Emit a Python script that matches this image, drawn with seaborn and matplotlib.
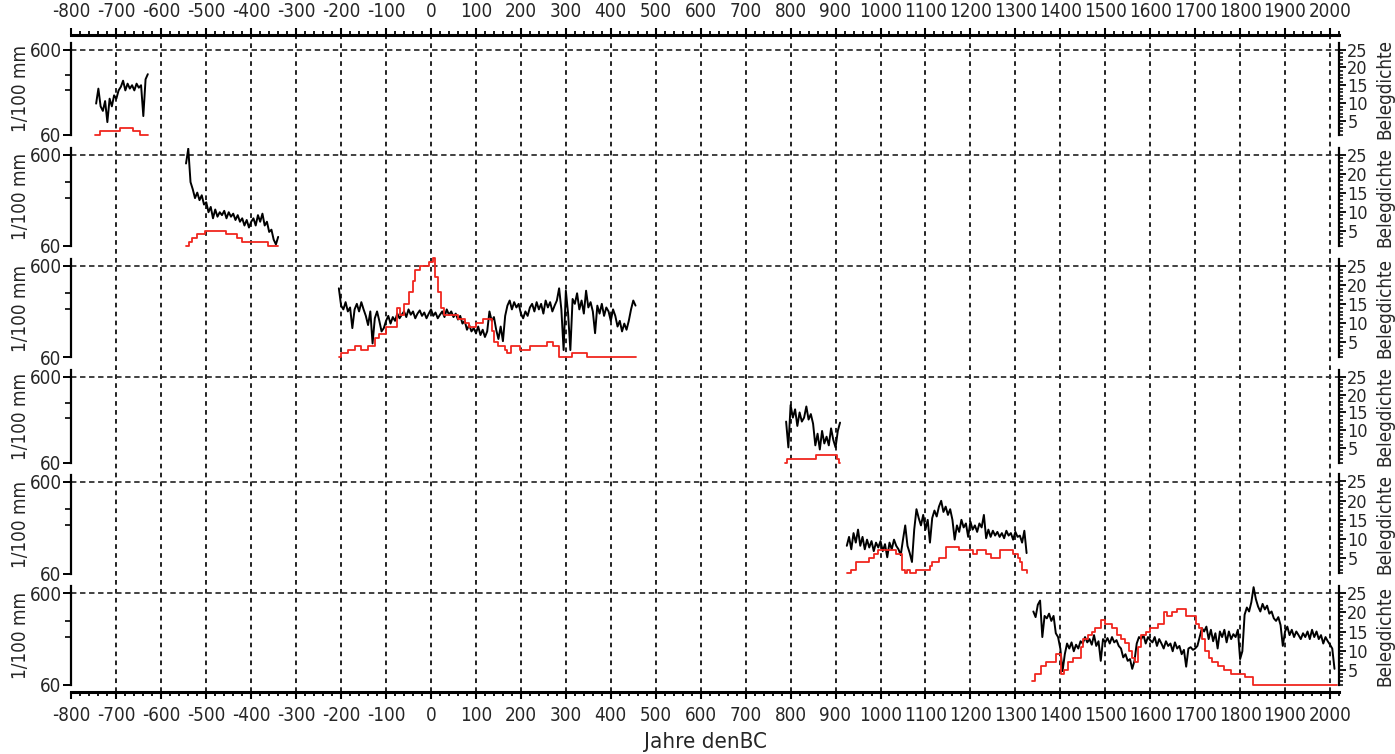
import numpy as np
import pandas as pd
import matplotlib
matplotlib.use("Agg")
import matplotlib.pyplot as plt
import matplotlib.ticker as mticker
import seaborn as sns

# ---- data (ring width 1/100 mm, 5-year steps) ----
P1_YEAR0 = -745
P1_RING = [140, 210, 130, 115, 150, 85, 160, 130, 175, 160, 200, 220, 260, 200,
           240, 210, 230, 200, 240, 215, 230, 100, 270, 310]
P1_DENS_YEARS = [-747, -736, -692, -662, -647, -629]
P1_DENS = [1, 2, 3, 2, 1, 1]

P2_YEAR0 = -545
P2_RING = [480, 700, 300, 250, 200, 230, 190, 215, 170, 180,
           140, 160, 120, 150, 125, 140, 130, 145, 120, 140,
           125, 135, 115, 130, 110, 120, 100, 115, 95, 110,
           120, 100, 130, 110, 135, 100, 110, 85, 90, 70,
           62, 75]
P2_DENS_YEARS = [-545, -538, -531, -521, -503, -455, -432, -421, -362, -340]
P2_DENS = [1, 2, 3, 4, 5, 4, 3, 2, 1, 1]

P3_YEAR0 = -205
P3_RING = [340, 220, 200, 240, 190, 210, 125, 200, 230, 190,
           240, 200, 170, 135, 190, 85, 160, 190, 150, 115,
           125, 150, 170, 140, 165, 150, 180, 160, 175, 190,
           165, 200, 175, 190, 160, 180, 195, 170, 185, 160,
           180, 200, 170, 185, 160, 175, 190, 165, 200, 175,
           190, 165, 180, 155, 170, 140, 150, 120, 135, 115,
           125, 110, 130, 105, 120, 100, 115, 190, 150, 165,
           120, 95, 130, 90, 170, 220, 250, 200, 240, 210,
           230, 180, 160, 190, 170, 210, 230, 190, 240, 200,
           230, 180, 250, 210, 240, 190, 220, 250, 340, 200,
           72, 320, 180, 72, 260, 230, 300, 200, 250, 180,
           320, 210, 240, 190, 110, 220, 180, 230, 170, 210,
           190, 150, 200, 170, 130, 150, 115, 140, 120, 150, 200, 250, 220]
P3_DENS_YEARS = [-205, -200, -185, -170, -155, -140, -125, -115, -100, -75,
                 -68, -60, -50, -40, -35, -25, -5, 5, 10, 15,
                 22, 28, 60, 75, 85, 100, 115, 135, 140, 148,
                 165, 170, 177, 198, 220, 258, 272, 284, 313, 346, 455]
P3_DENS = [1, 2, 3, 4, 3, 4, 6, 7, 9, 14,
           12, 15, 18, 21, 24, 25, 26, 27, 22, 18,
           14, 12, 11, 10, 9, 10, 11, 8, 5, 4,
           3, 2, 4, 3, 4, 5, 4, 1, 2, 1, 1]

P4_YEAR0 = 790
P4_RING = [180, 90, 280, 200, 250, 160, 230, 180, 200, 270,
           190, 220, 170, 95, 130, 85, 140, 100, 120, 95,
           150, 110, 90, 140, 175]
P4_DENS_YEARS = [787, 793, 857, 903, 907, 910]
P4_DENS = [1, 2, 3, 2, 1, 1]

P5_YEAR0 = 925
P5_RING = [120, 150, 110, 165, 130, 180, 120, 150, 110, 140,
           115, 135, 105, 130, 115, 135, 105, 125, 90, 130,
           110, 140, 120, 110, 95, 140, 200, 120, 100, 80,
           180, 300, 240, 200, 260, 180, 230, 130, 240, 290,
           250, 320, 370, 280, 320, 260, 300, 230, 140, 200,
           170, 230, 190, 210, 150, 220, 180, 200, 170, 210,
           190, 260, 145, 180, 150, 175, 155, 170, 150, 165,
           145, 175, 155, 165, 140, 170, 150, 155, 130, 175, 100]
P5_DENS_YEARS = [925, 935, 945, 975, 985, 995, 1035, 1048, 1055, 1060,
                 1065, 1080, 1110, 1115, 1130, 1145, 1175, 1205, 1215, 1235,
                 1245, 1265, 1295, 1305, 1310, 1315, 1325]
P5_DENS = [1, 2, 4, 5, 6, 7, 6, 2, 1, 2,
           1, 2, 3, 4, 5, 8, 7, 6, 7, 6,
           5, 7, 6, 5, 4, 2, 1]

P6_YEAR0 = 1340
P6_RING = [380, 330, 450, 500, 200, 340, 320, 360, 300, 340,
           220, 200, 150, 85, 130, 170, 150, 175, 140, 165,
           150, 180, 170, 200, 175, 190, 165, 210, 160, 180,
           110, 190, 175, 195, 170, 200, 175, 185, 160, 150,
           120, 130, 110, 115, 90, 110, 170, 200, 190, 210,
           170, 200, 185, 175, 200, 160, 190, 170, 150, 180,
           160, 170, 140, 175, 150, 160, 130, 145, 95, 150,
           155, 145, 150, 160, 200, 250, 230, 260, 190, 240,
           180, 220, 150, 230, 200, 240, 175, 230, 190, 215,
           200, 240, 115, 140, 350, 420, 380, 480, 700, 520,
           430, 380, 460, 400, 440, 360, 380, 320, 300, 330,
           270, 160, 230, 260, 210, 240, 200, 230, 210, 190,
           220, 200, 230, 190, 240, 200, 230, 190, 210, 170,
           200, 180, 165, 150, 90]
P6_DENS_YEARS = [1338, 1343, 1358, 1369, 1391, 1401, 1408, 1418, 1428, 1445,
                 1451, 1462, 1470, 1477, 1490, 1500, 1515, 1527, 1535, 1545,
                 1553, 1560, 1566, 1572, 1580, 1590, 1600, 1618, 1630, 1638,
                 1648, 1660, 1680, 1702, 1708, 1715, 1722, 1730, 1738, 1750,
                 1765, 1780, 1810, 1828, 2015]
P6_DENS = [2, 4, 6, 7, 9, 4, 5, 7, 8, 11,
           13, 14, 15, 16, 18, 17, 16, 14, 13, 12,
           10, 8, 7, 11, 14, 15, 16, 17, 20, 19,
           20, 21, 19, 17, 16, 13, 10, 8, 7, 6,
           5, 4, 3, 1, 1]

X_TICKS = list(range(-800, 2001, 100))

PANELS = [
    (P1_YEAR0, P1_RING, P1_DENS_YEARS, P1_DENS),
    (P2_YEAR0, P2_RING, P2_DENS_YEARS, P2_DENS),
    (P3_YEAR0, P3_RING, P3_DENS_YEARS, P3_DENS),
    (P4_YEAR0, P4_RING, P4_DENS_YEARS, P4_DENS),
    (P5_YEAR0, P5_RING, P5_DENS_YEARS, P5_DENS),
    (P6_YEAR0, P6_RING, P6_DENS_YEARS, P6_DENS),
]
# pixel rows of the 600 and 60 levels of every panel
PANEL_ROWS = [(49.7, 135.0), (154.7, 245.7), (265.7, 357.3),
              (376.7, 462.5), (481.5, 573.5), (593.3, 685.0)]

W, H = 1395, 754
X_LEFT, X_RIGHT = 71.4, 1339.0
XMIN, XMAX = -800, 2020
RED = "#f0261f"

sns.set_theme(style="white")
plt.rcParams["font.family"] = ["DejaVu Sans"]
plt.rcParams["font.stretch"] = "condensed"


def rect(left, top, right, bottom):
    return [left / W, 1 - bottom / H, (right - left) / W, (bottom - top) / H]


fig = plt.figure(figsize=(W / 100, H / 100), dpi=100)

# background axes: year axis top + bottom and vertical grid
bg = fig.add_axes(rect(X_LEFT, 35, X_RIGHT, 692))
bg.set_facecolor("none")
bg.set_xlim(XMIN, XMAX)
bg.set_ylim(0, 1)
bg.set_yticks([])
for s in ["left", "right"]:
    bg.spines[s].set_visible(False)
for s in ["top", "bottom"]:
    bg.spines[s].set_linewidth(2.2)
    bg.spines[s].set_color("black")
bg.set_xticks(X_TICKS)
bg.set_xticklabels([str(t) for t in X_TICKS])
bg.xaxis.set_minor_locator(mticker.MultipleLocator(20))
bg.tick_params(axis="x", which="both", direction="out", top=True, bottom=True,
               labeltop=True, labelbottom=True, color="black", labelsize=13.5,
               pad=5)
bg.tick_params(axis="x", which="major", length=5, width=1.5)
bg.tick_params(axis="x", which="minor", length=3, width=1.3)
for x in X_TICKS[1:]:
    bg.axvline(x, ls=(0, (2.4, 2.2)), lw=1.4, color="#222222", zorder=0)
bg.set_xlabel("Jahre denBC", fontsize=16, labelpad=5)

for (year0, ring, dyears, dens), (y600, y60) in zip(PANELS, PANEL_ROWS):
    hpx = y60 - y600
    ax = fig.add_axes(rect(X_LEFT, y600 - 7, X_RIGHT, y60))
    ax.set_facecolor("none")
    df = pd.DataFrame({"year": year0 + 5 * np.arange(len(ring)), "ring": ring})
    sns.lineplot(data=df, x="year", y="ring", ax=ax, color="black", lw=1.4,
                 errorbar=None)
    ax.set_yscale("log")
    ax.set_xlim(XMIN, XMAX)
    ax.set_ylim(60, 600 * 10 ** (7 / hpx))
    ax.axhline(600, ls=(0, (3, 2)), lw=1.3, color="#333333", zorder=0)
    ax.set_xticks([])
    ax.set_xlabel("")
    ax.set_ylabel("")
    ax.yaxis.set_major_locator(mticker.FixedLocator([60, 600]))
    ax.yaxis.set_major_formatter(mticker.FixedFormatter(["60", "600"]))
    ax.yaxis.set_minor_locator(mticker.FixedLocator([200, 300]))
    ax.yaxis.set_minor_formatter(mticker.NullFormatter())
    ax.tick_params(axis="y", which="both", direction="out", left=True,
                   color="black", labelsize=13.5, pad=1)
    ax.tick_params(axis="y", which="major", length=6, width=1.4)
    ax.tick_params(axis="y", which="minor", length=4, width=1.2)
    for s in ["top", "bottom", "right"]:
        ax.spines[s].set_visible(False)
    ax.spines["left"].set_linewidth(1.6)
    ax.spines["left"].set_color("black")

    ax2 = ax.twinx()
    ax2.set_facecolor("none")
    dd = pd.DataFrame({"year": dyears, "dens": dens})
    sns.lineplot(data=dd, x="year", y="dens", ax=ax2, color=RED, lw=1.3,
                 drawstyle="steps-post", errorbar=None)
    for ln in ax2.lines:
        ln.set_clip_on(False)
    ax2.set_xlim(XMIN, XMAX)
    ax2.set_ylim(1, 25 + 7 * 24 / hpx)
    ax2.set_ylabel("")
    ax2.set_yticks([5, 10, 15, 20, 25])
    ax2.yaxis.set_minor_locator(mticker.FixedLocator(range(1, 26)))
    ax2.tick_params(axis="y", which="both", direction="out", right=True,
                    color="black", labelsize=13, pad=1)
    ax2.tick_params(axis="y", which="major", length=5, width=1.3)
    ax2.tick_params(axis="y", which="minor", length=3, width=1.1)
    for s in ["top", "bottom", "left"]:
        ax2.spines[s].set_visible(False)
    ax2.spines["right"].set_linewidth(1.6)
    ax2.spines["right"].set_color("black")

    yc = 1 - ((y600 - 7 + y60) / 2) / H
    fig.text(20 / W, yc, "1/100 mm", rotation=90, ha="center", va="center",
             fontsize=13.5)
    fig.text(1385 / W, yc, "Belegdichte", rotation=90, ha="center",
             va="center", fontsize=13.5)

fig.savefig("out.png", dpi=100)
